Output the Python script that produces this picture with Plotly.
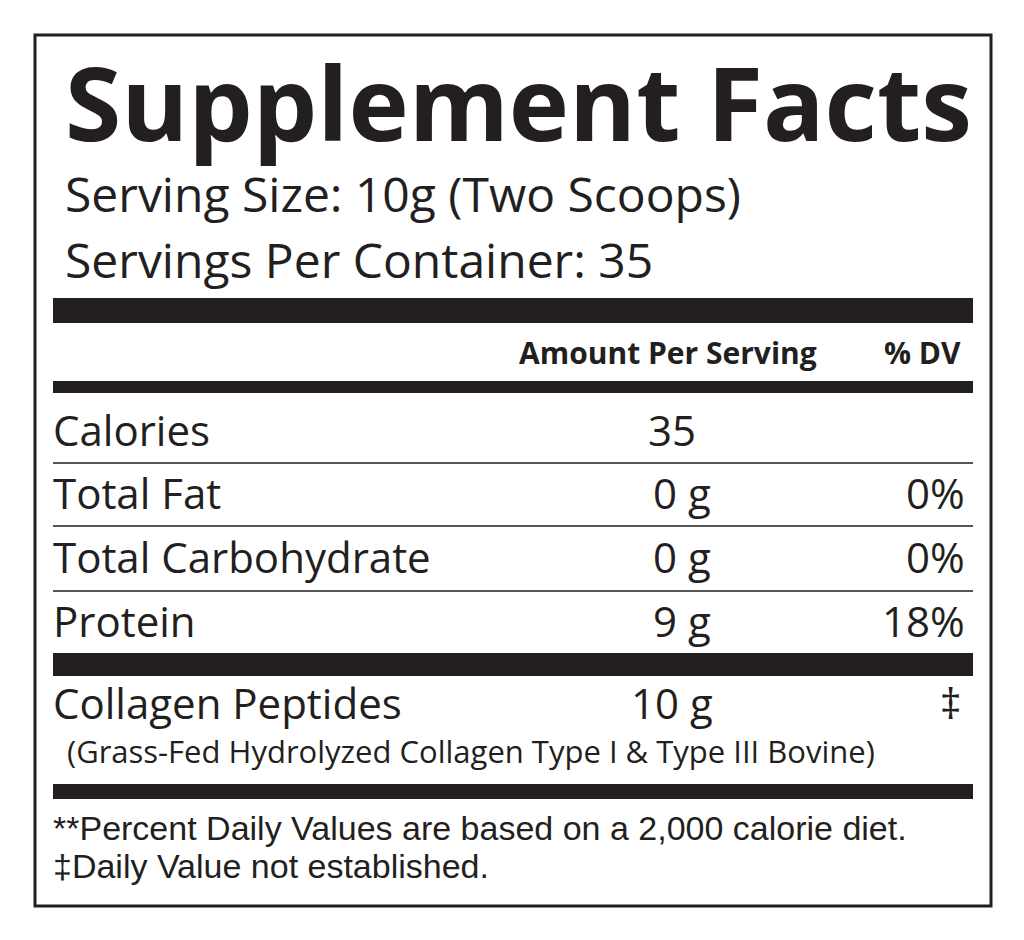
import plotly.graph_objects as go

title = "Supplement Facts"
serving_lines = ["Serving Size: 10g (Two Scoops)", "Servings Per Container: 35"]
header = ["Amount Per Serving", "% DV"]
nutrients = ["Calories", "Total Fat", "Total Carbohydrate", "Protein"]
amounts = ["35", "0 g", "0 g", "9 g"]
dvs = ["", "0%", "0%", "18%"]
special = ["Collagen Peptides", "10 g", "‡"]
special_note = "(Grass-Fed Hydrolyzed Collagen Type I & Type III Bovine)"
footnotes = ["**Percent Daily Values are based on a 2,000 calorie diet.",
             "‡Daily Value not established."]

F = "Open Sans"
fig = go.Figure()
shapes = []
ann = []
def A(x, y, t, size, xa="left", bold=False, fam=F, color="#231f20"):
    ann.append(dict(x=x, y=y, text=f"<b>{t}</b>" if bold else t, showarrow=False,
                    xanchor=xa, yanchor="middle", xref="x", yref="y",
                    font=dict(family=fam, size=size, color=color)))
def R(y0, y1, x0=52, x1=972):
    shapes.append(dict(type="rect", x0=x0, x1=x1, y0=y0, y1=y1, xref="x", yref="y",
                       fillcolor="#231f20", line=dict(width=0)))
def L(y):
    shapes.append(dict(type="line", x0=52, x1=972, y0=y, y1=y, xref="x", yref="y",
                       line=dict(color="#231f20", width=1.5)))

shapes.append(dict(type="rect", x0=34, x1=990, y0=34, y1=905, xref="x", yref="y",
                   line=dict(color="#231f20", width=3)))
A(517, 100, title, 102, "center", True)
A(62, 192, serving_lines[0], 48)
A(62, 258, serving_lines[1], 48)
R(297, 322)
A(667, 351, header[0], 30, "center", True)
A(962, 351, header[1], 30, "right", True)
R(380, 392)
ys = [428, 491, 555, 619]
for i, n in enumerate(nutrients):
    A(50, ys[i], n, 42)
    A(712 if i else 697, ys[i], amounts[i], 42, "right")
    A(966, ys[i], dvs[i], 42, "right")
for y in [462, 525, 590]:
    L(y)
R(652, 675)
A(50, 701, special[0], 42)
A(714, 701, special[1], 42, "right")
A(962, 701, special[2], 42, "right")
A(64, 750, special_note, 31)
R(783, 798)
A(50, 827, footnotes[0], 34, fam="Liberation Sans")
A(50, 865, footnotes[1], 34, fam="Liberation Sans")

fig.update_layout(width=1024, height=940, margin=dict(l=0, r=0, t=0, b=0),
                  paper_bgcolor="white", plot_bgcolor="white",
                  shapes=shapes, annotations=ann, showlegend=False,
                  xaxis=dict(range=[7, 1031], visible=False, fixedrange=True),
                  yaxis=dict(range=[947, 7], visible=False, fixedrange=True))
fig.write_html("out.html")
